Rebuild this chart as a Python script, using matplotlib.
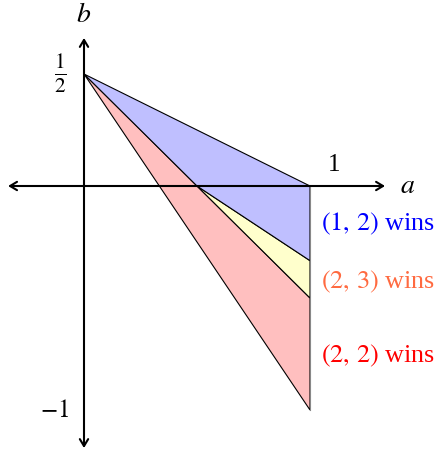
import matplotlib.pyplot as plt

plt.rcParams['font.family'] = ['Liberation Serif', 'DejaVu Serif']
plt.rcParams['mathtext.fontset'] = 'stix'

# region vertices in (a, b)
blue_a = [0, 1, 1, 0.5]
blue_b = [0.5, 0, -1/3, 0]
yellow_a = [0.5, 1, 1]
yellow_b = [0, -1/3, -0.5]
red_a = [0, 1, 1]
red_b = [0.5, -0.5, -1]

labels = [r'$(1,\,2)$ wins', r'$(2,\,3)$ wins', r'$(2,\,2)$ wins']
label_b = [-0.17, -0.43, -0.76]
label_colors = ['#0000ff', '#ff6a40', '#ff0000']

fig = plt.figure(figsize=(4.37, 4.53), dpi=100)
ax = fig.add_axes([0, 0, 1, 1])
ax.set_xlim(-84/226, (437-84)/226)
ax.set_ylim(-(453-186)/224, 186/224)
ax.axis('off')

ax.fill(red_a, red_b, facecolor='#ffbfbf', edgecolor='black', linewidth=0.8)
ax.fill(yellow_a, yellow_b, facecolor='#ffffcc', edgecolor='black', linewidth=0.8)
ax.fill(blue_a, blue_b, facecolor='#bfbfff', edgecolor='black', linewidth=0.8)
ax.plot([1, 1], [0, -1], color='#888888', linewidth=0.8)

arrow = dict(arrowstyle='<->,head_length=0.5,head_width=0.3', color='black',
             linewidth=1.5, shrinkA=0, shrinkB=0)
ax.annotate('', xy=(-0.336, 0), xytext=(1.332, 0), arrowprops=arrow)
ax.annotate('', xy=(0, 0.661), xytext=(0, -1.17), arrowprops=arrow)

ax.text(1.434, 0, '$a$', fontsize=20, ha='center', va='center')
ax.text(0, 0.763, '$b$', fontsize=20, ha='center', va='center')
ax.text(1.106, 0.094, '1', fontsize=18, ha='center', va='center')
ax.text(-0.105, 0.5, r'$\frac{1}{2}$', fontsize=22, ha='center', va='center')
ax.text(-0.13, -1.004, '$-1$', fontsize=18, ha='center', va='center')

for txt, yb, c in zip(labels, label_b, label_colors):
    ax.text(1.05, yb, txt, fontsize=18.8, color=c, ha='left', va='center')

fig.savefig('out.png', dpi=100)
